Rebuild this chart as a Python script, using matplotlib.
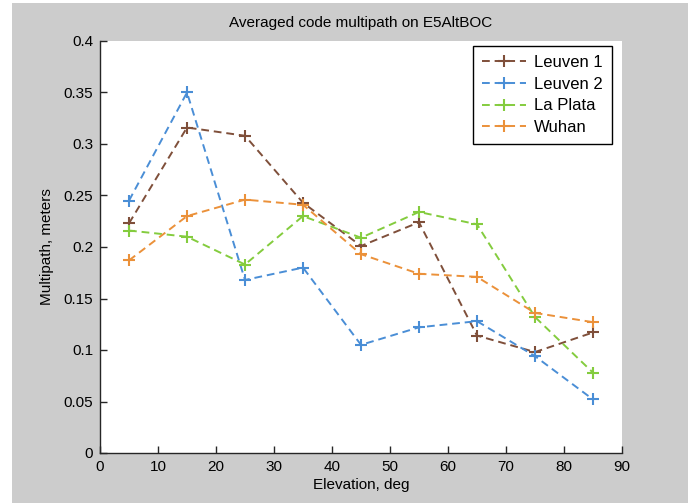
import matplotlib
matplotlib.use("Agg")
import matplotlib.pyplot as plt
from matplotlib.patches import Rectangle

elev = [5, 15, 25, 35, 45, 55, 65, 75, 85]
leuven1 = [0.223, 0.316, 0.308, 0.243, 0.201, 0.224, 0.114, 0.098, 0.117]
leuven2 = [0.245, 0.350, 0.168, 0.180, 0.105, 0.122, 0.128, 0.094, 0.052]
laplata = [0.216, 0.210, 0.183, 0.230, 0.209, 0.234, 0.222, 0.132, 0.078]
wuhan = [0.187, 0.230, 0.246, 0.241, 0.193, 0.174, 0.171, 0.136, 0.127]
labels = ["Leuven 1", "Leuven 2", "La Plata", "Wuhan"]
colors = ["#7f4f3a", "#4a8ed6", "#84cc3e", "#eb913a"]

plt.rcParams['font.family'] = ['Liberation Sans', 'DejaVu Sans']
FS = 11

fig = plt.figure(figsize=(6.88, 5.03), dpi=100)
fig.patch.set_facecolor("white")
W, H = 688, 503
fig.patches.append(Rectangle((12 / W, 0), 1 - 12 / W, 1 - 3 / H, transform=fig.transFigure,
                             facecolor="#cccccc", edgecolor="none", zorder=-10))

ax = fig.add_axes([100 / W, 1 - 453 / H, (622 - 100) / W, (453 - 41) / H])
ax.set_facecolor("white")
for y, lab, c in zip([leuven1, leuven2, laplata, wuhan], labels, colors):
    ax.plot(elev, y, linestyle=(0, (4, 2.5)), color=c, linewidth=1.4, marker='+',
            markersize=9, markeredgewidth=1.5, label=lab)

ax.set_xlim(0, 90)
ax.set_ylim(0, 0.4)
ax.set_xticks(range(0, 91, 10))
ax.set_yticks([0, 0.05, 0.1, 0.15, 0.2, 0.25, 0.3, 0.35, 0.4])
ax.set_yticklabels(["0", "0.05", "0.1", "0.15", "0.2", "0.25", "0.3", "0.35", "0.4"])
for s in ["top", "right"]:
    ax.spines[s].set_visible(False)
for s in ["left", "bottom"]:
    ax.spines[s].set_color("#262626")
    ax.spines[s].set_linewidth(1.0)
ax.tick_params(direction="in", length=5, width=1, colors="#262626", labelcolor="black",
               labelsize=FS, pad=5)

ax.set_title("Averaged code multipath on E5AltBOC", fontsize=FS, pad=10)
ax.set_xlabel("Elevation, deg", fontsize=FS, labelpad=3)
ax.set_ylabel("Multipath, meters", fontsize=FS, labelpad=7)

leg = ax.legend(loc="upper right", bbox_to_anchor=(612 / W, 1 - 46 / H), bbox_transform=fig.transFigure,
                fontsize=12, fancybox=False, edgecolor="black", framealpha=1,
                handlelength=2.6, handletextpad=0.5, borderpad=0.55, labelspacing=0.4,
                borderaxespad=0)
leg.get_frame().set_linewidth(1.0)

fig.savefig("out.png", dpi=100)
